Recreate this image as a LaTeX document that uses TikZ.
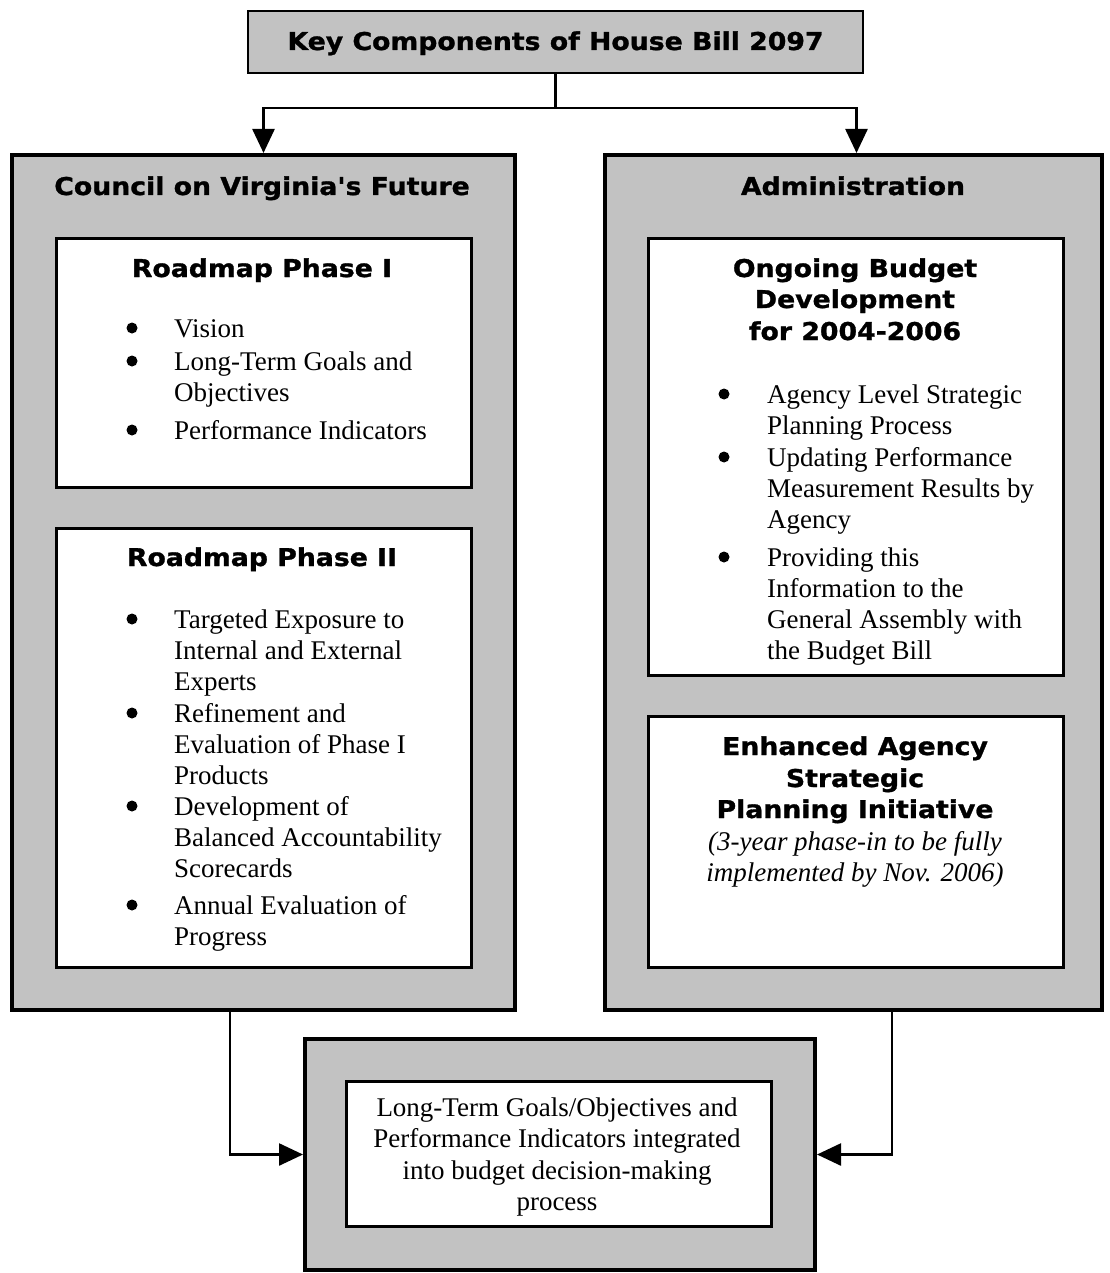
\documentclass[tikz,border=0pt]{standalone}
\usepackage{fontspec}
\setmainfont{Liberation Serif}
\newfontfamily\headfont{DejaVu Sans}[FakeStretch=1.09, BoldFeatures={FakeBold=1.2}]
\usetikzlibrary{arrows.meta}
\definecolor{panelgray}{RGB}{194,194,194}
% multi-line text whose reference point is the baseline of its first line
\newcommand\leftlines[1]{\begin{tabular}[t]{@{}l@{}}#1\end{tabular}}
\newcommand\centerlines[1]{\begin{tabular}[t]{@{}c@{}}#1\end{tabular}}
\begin{document}
\begin{tikzpicture}[x=1pt,y=-1pt,
  panel/.style={draw=black, line width=4pt, fill=panelgray, anchor=north west, inner sep=0},
  card/.style={draw=black, line width=3pt, fill=white, anchor=north west, inner sep=0},
  head/.style={font=\headfont\bfseries\fontsize{24.5}{31}\selectfont, anchor=base, inner sep=0},
  body/.style={font=\fontsize{27}{31}\selectfont, anchor=base west, inner sep=0},
  note/.style={font=\fontsize{27}{31.5}\selectfont, anchor=base, inner sep=0},
  dot/.style={circle, fill=black, inner sep=0, minimum size=11pt, yshift=9pt},
  link/.style={line width=2.5pt},
  flow/.style={line width=2.5pt, -{Triangle[length=24pt,width=22pt]}}]
\useasboundingbox (0,0) rectangle (1109,1273);

% title
\node[panel, line width=2pt, minimum width=615pt, minimum height=62pt] (title) at (247,10) {};
\node[head] (titletext) at (title.center |- 0,50) {Key Components of House Bill 2097};

% two main panels
\node[panel, minimum width=503pt, minimum height=855pt] (left) at (10,153) {};
\node[panel, minimum width=497pt, minimum height=855pt] (right) at (603,153) {};
\node[head] (lefthead) at (262,195) {Council on Virginia's Future};
\node[head] (righthead) at (853,195) {Administration};

% left cards
\node[card, minimum width=415pt, minimum height=249pt] (ph1) at (55,237) {};
\node[card, minimum width=415pt, minimum height=439pt] (ph2) at (55,527) {};
\node[head] (ph1head) at (262,277) {Roadmap Phase I};
\node[dot] (b11) at (132,337) {};
\node[body] (i11) at (174,337) {Vision};
\node[dot] (b12) at (132,370) {};
\node[body] (i12) at (174,370) {\leftlines{Long-Term Goals and\\Objectives}};
\node[dot] (b13) at (132,439) {};
\node[body] (i13) at (174,439) {Performance Indicators};

\node[head] (ph2head) at (262,566) {Roadmap Phase II};
\node[dot] (b21) at (132,628) {};
\node[body] (i21) at (174,628) {\leftlines{Targeted Exposure to\\Internal and External\\Experts}};
\node[dot] (b22) at (132,722) {};
\node[body] (i22) at (174,722) {\leftlines{Refinement and\\Evaluation of Phase I\\Products}};
\node[dot] (b23) at (132,815) {};
\node[body] (i23) at (174,815) {\leftlines{Development of\\Balanced Accountability\\Scorecards}};
\node[dot] (b24) at (132,914) {};
\node[body] (i24) at (174,914) {\leftlines{Annual Evaluation of\\Progress}};

% right cards
\node[card, minimum width=415pt, minimum height=437pt] (obd) at (647,237) {};
\node[card, minimum width=415pt, minimum height=251pt] (easp) at (647,715) {};
\node[head] (obd1) at (855,277) {Ongoing Budget};
\node[head] (obd2) at (855,308) {Development};
\node[head] (obd3) at (855,340) {for 2004-2006};
\node[dot] (b31) at (724,403) {};
\node[body] (i31) at (767,403) {\leftlines{Agency Level Strategic\\Planning Process}};
\node[dot] (b32) at (724,466) {};
\node[body] (i32) at (767,466) {\leftlines{Updating Performance\\Measurement Results by\\Agency}};
\node[dot] (b33) at (724,566) {};
\node[body] (i33) at (767,566) {\leftlines{Providing this\\Information to the\\General Assembly with\\the Budget Bill}};

\node[head] (easp1) at (855,755) {Enhanced Agency};
\node[head] (easp2) at (855,787) {Strategic};
\node[head] (easp3) at (855,818) {Planning Initiative};
\node[note, font={\itshape\fontsize{27}{31.5}\selectfont}] (easpnote) at (855,850)
  {\centerlines{(3-year phase-in to be fully\\implemented by Nov. 2006)}};

% result panel
\node[panel, minimum width=510pt, minimum height=231pt] (result) at (303,1037) {};
\node[card, minimum width=425pt, minimum height=145pt] (resultcard) at (345,1080) {};
\node[note] (resulttext) at (557,1116)
  {\centerlines{Long-Term Goals/Objectives and\\Performance Indicators integrated\\into budget decision-making\\process}};

% connectors
\coordinate (split) at (title.south |- 0,108);
\draw[link] (title.south) -- (split);
\draw[flow] (split) -| (left.north);
\draw[flow] (split) -| ([xshift=3pt]right.north);
\draw[flow] ([xshift=-33.5pt]left.south) |- (result.west);
\draw[flow] ([xshift=38.5pt]right.south) |- (result.east);
\end{tikzpicture}
\end{document}
